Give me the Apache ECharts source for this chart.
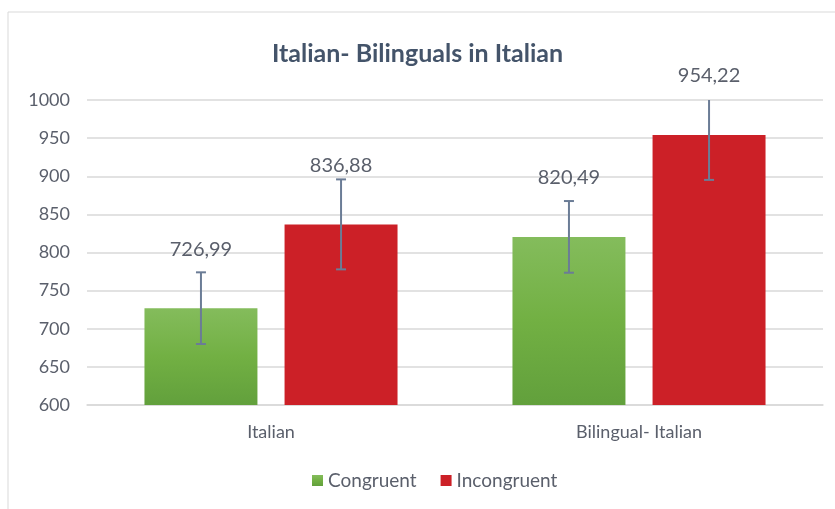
<!DOCTYPE html>
<html>
<head>
<meta charset="utf-8">
<script src="https://cdn.jsdelivr.net/npm/echarts@6/dist/echarts.min.js"></script>
<style>
  html, body { margin: 0; padding: 0; background: #fff; }
  #chart { width: 835px; height: 509px; }
</style>
</head>
<body>
<div id="chart"></div>
<script>
  // data
  const categories = ['Italian', 'Bilingual- Italian'];
  const congruent = [726.99, 820.49];
  const incongruent = [836.88, 954.22];
  const congruentErr = [47, 47];
  const incongruentErr = [59, 59];

  const BAR_W = 0.307;   // share of category band
  const BAR_GAP = 0.24;  // gap relative to bar width
  const fmt = v => v.toFixed(2).replace('.', ',');
  const textColor = '#5a5f6b';

  function errorSeries(values, errs, side) {
    return {
      type: 'custom',
      clip: true,
      silent: true,
      z: 5,
      data: values.map((v, i) => [i, v, errs[i]]),
      renderItem: function(params, api) {
        const band = api.size([1, 0])[0];
        const off = side * (BAR_W + BAR_W * BAR_GAP) / 2 * band;
        const c = api.coord([api.value(0), api.value(1)]);
        const x = c[0] + off;
        const hi = api.coord([api.value(0), api.value(1) + api.value(2)])[1];
        const lo = api.coord([api.value(0), api.value(1) - api.value(2)])[1];
        const style = { stroke: '#6b7c96', lineWidth: 2 };
        return {
          type: 'group',
          children: [
            { type: 'line', shape: { x1: x, y1: hi, x2: x, y2: lo }, style },
            { type: 'line', shape: { x1: x - 5, y1: hi, x2: x + 5, y2: hi }, style },
            { type: 'line', shape: { x1: x - 5, y1: lo, x2: x + 5, y2: lo }, style }
          ]
        };
      }
    };
  }

  const chart = echarts.init(document.getElementById('chart'));
  chart.setOption({
    animation: false,
    textStyle: { fontFamily: 'Lato' },
    graphic: [{
      type: 'rect',
      shape: { x: 8, y: 12, width: 900, height: 600 },
      style: { fill: 'none', stroke: '#d9d9d9', lineWidth: 1 }
    }],
    title: {
      text: 'Italian- Bilinguals in Italian',
      left: 'center',
      top: 36,
      textStyle: { color: '#44546a', fontSize: 25, fontWeight: 'bold', fontFamily: 'Lato' }
    },
    legend: {
      data: ['Congruent', 'Incongruent'],
      bottom: 14,
      left: 307,
      itemWidth: 11,
      itemHeight: 11,
      itemGap: 24,
      icon: 'rect',
      textStyle: { color: textColor, fontSize: 19 }
    },
    grid: { left: 87, right: 12, top: 100, bottom: 104 },
    xAxis: {
      type: 'category',
      data: categories,
      axisLine: { lineStyle: { color: '#d9d9d9', width: 1.5 } },
      axisTick: { show: false },
      axisLabel: { color: textColor, fontSize: 18, margin: 18 }
    },
    yAxis: {
      type: 'value',
      min: 600,
      max: 1000,
      interval: 50,
      axisLine: { show: false },
      axisTick: { show: false },
      splitLine: { lineStyle: { color: '#d9d9d9', width: 1.5 } },
      axisLabel: { color: textColor, fontSize: 18, margin: 17, formatter: v => String(v) }
    },
    series: [
      {
        name: 'Congruent',
        type: 'bar',
        data: congruent,
        barWidth: (BAR_W * 100) + '%',
        barGap: (BAR_GAP * 100) + '%',
        itemStyle: {
          color: new echarts.graphic.LinearGradient(0, 0, 0, 1, [
            { offset: 0, color: '#84bc5c' },
            { offset: 0.5, color: '#72b043' },
            { offset: 1, color: '#62a03c' }
          ])
        },
        label: {
          show: true, position: 'top', distance: 49,
          color: textColor, fontSize: 20, formatter: p => fmt(p.value)
        }
      },
      {
        name: 'Incongruent',
        type: 'bar',
        data: incongruent,
        barWidth: (BAR_W * 100) + '%',
        itemStyle: { color: '#cc2027' },
        label: {
          show: true, position: 'top', distance: 49,
          color: textColor, fontSize: 20, formatter: p => fmt(p.value)
        }
      },
      errorSeries(congruent, congruentErr, -1),
      errorSeries(incongruent, incongruentErr, 1)
    ]
  });
  window.addEventListener('resize', () => chart.resize());
</script>
</body>
</html>
